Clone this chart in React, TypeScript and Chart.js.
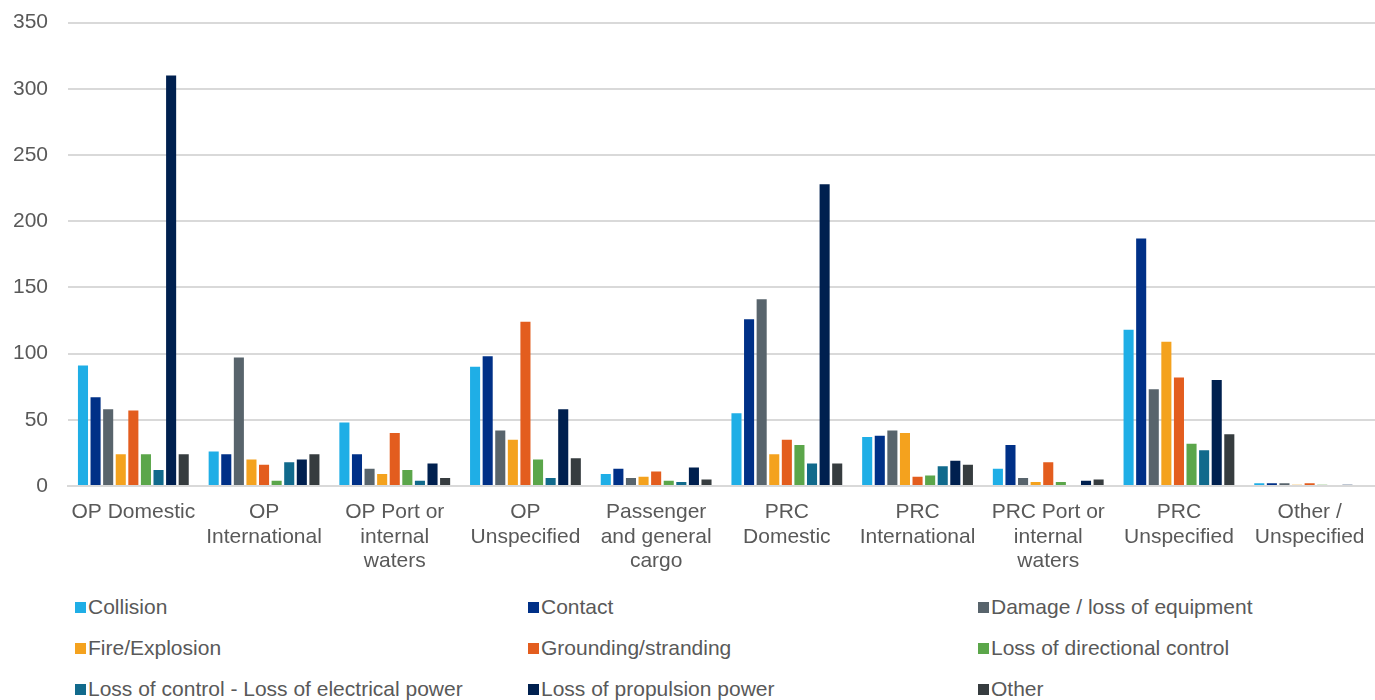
import React, { useEffect, useRef } from "react";
import { Chart, registerables } from "chart.js";

Chart.register(...registerables);

const categories: string[][] = [
  ["OP Domestic"],
  ["OP", "International"],
  ["OP Port or", "internal", "waters"],
  ["OP", "Unspecified"],
  ["Passenger", "and general", "cargo"],
  ["PRC", "Domestic"],
  ["PRC", "International"],
  ["PRC Port or", "internal", "waters"],
  ["PRC", "Unspecified"],
  ["Other /", "Unspecified"],
];

const seriesNames = [
  "Collision",
  "Contact",
  "Damage / loss of equipment",
  "Fire/Explosion",
  "Grounding/stranding",
  "Loss of directional control",
  "Loss of control - Loss of electrical power",
  "Loss of propulsion power",
  "Other",
];

const seriesColors = [
  "#1FAEE6",
  "#003087",
  "#58646C",
  "#F4A21E",
  "#E35D1E",
  "#5BA64A",
  "#116A8C",
  "#00204F",
  "#363C3F",
];

const collision = [91, 26, 48, 90, 9, 55, 37, 13, 118, 2];
const contact = [67, 24, 24, 98, 13, 126, 38, 31, 187, 2];
const damage = [58, 97, 13, 42, 6, 141, 42, 6, 73, 2];
const fireExplosion = [24, 20, 9, 35, 7, 24, 40, 3, 109, 1];
const grounding = [57, 16, 40, 124, 11, 35, 7, 18, 82, 2];
const directionalControl = [24, 4, 12, 20, 4, 31, 8, 3, 32, 1];
const electricalPower = [12, 18, 4, 6, 3, 17, 15, 0, 27, 0];
const propulsionPower = [310, 20, 17, 58, 14, 228, 19, 4, 80, 1];
const other = [24, 24, 6, 21, 5, 17, 16, 5, 39, 0];

const seriesValues = [
  collision,
  contact,
  damage,
  fireExplosion,
  grounding,
  directionalControl,
  electricalPower,
  propulsionPower,
  other,
];

const yTicks = [0, 50, 100, 150, 200, 250, 300, 350];

const FONT = "'Liberation Sans', Arial, sans-serif";
const TEXT = "#595959";

export default function App() {
  const ref = useRef<HTMLCanvasElement | null>(null);

  useEffect(() => {
    document.body.style.margin = "0";
    if (!ref.current) return;
    const chart = new Chart(ref.current, {
      type: "bar",
      data: {
        labels: categories,
        datasets: seriesNames.map((name, i) => ({
          label: name,
          data: seriesValues[i],
          backgroundColor: seriesColors[i],
          borderWidth: 0,
          categoryPercentage: 0.867,
          barPercentage: 0.8,
        })),
      },
      options: {
        animation: false,
        responsive: false,
        maintainAspectRatio: false,
        layout: { padding: { top: 0, right: 0, left: 0, bottom: 0 } },
        plugins: {
          legend: { display: false },
          tooltip: { enabled: false },
        },
        scales: {
          x: {
            grid: { display: false },
            border: { display: true, color: "#D9D9D9", width: 2 },
            ticks: {
              color: TEXT,
              font: { family: FONT, size: 21, lineHeight: 1.17 },
              padding: 6,
              maxRotation: 0,
              autoSkip: false,
            },
            afterFit: (s: any) => {
              s.height = 94;
            },
          },
          y: {
            min: 0,
            max: 350,
            afterBuildTicks: (s: any) => {
              s.ticks = yTicks.map((v) => ({ value: v }));
            },
            grid: { color: "#D9D9D9", lineWidth: 2, drawTicks: false },
            border: { display: false },
            ticks: {
              color: TEXT,
              font: { family: FONT, size: 21 },
              padding: 20,
            },
            afterFit: (s: any) => {
              s.width = 68;
            },
          },
        },
      },
    });
    return () => chart.destroy();
  }, []);

  const cols = [75, 528, 978];
  const rows = [607, 648, 689];

  return (
    <div style={{ position: "absolute", left: 0, top: 0, width: 1375, height: 700, background: "#fff", overflow: "hidden" }}>
      <canvas
        ref={ref}
        width={1375}
        height={590}
        style={{ display: "block", position: "absolute", left: 0, top: -10, width: 1375, height: 590 }}
      />
      {seriesNames.map((name, i) => (
        <div
          key={name}
          style={{
            position: "absolute",
            left: cols[i % 3],
            top: rows[Math.floor(i / 3)] - 13,
            height: 26,
            display: "flex",
            alignItems: "center",
            fontFamily: FONT,
            fontSize: 21,
            color: TEXT,
            whiteSpace: "nowrap",
          }}
        >
          <span style={{ display: "inline-block", width: 11, height: 11, background: seriesColors[i], marginRight: 2 }} />
          <span>{name}</span>
        </div>
      ))}
    </div>
  );
}
